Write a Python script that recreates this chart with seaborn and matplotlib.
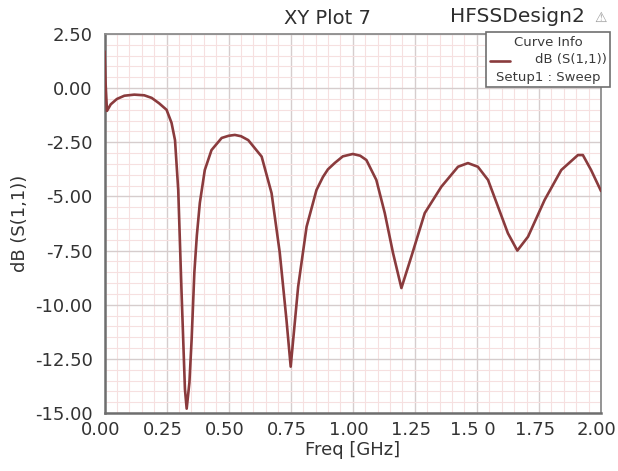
import numpy as np
import pandas as pd
import matplotlib
matplotlib.use("Agg")
import matplotlib.pyplot as plt
import matplotlib.transforms as mtransforms
from matplotlib.ticker import MultipleLocator, FixedLocator, FixedFormatter
from matplotlib.patches import Rectangle
from matplotlib.lines import Line2D
import seaborn as sns

# ---- data ----
freq_ghz = [0.000, 0.004, 0.010, 0.025, 0.05, 0.08, 0.12, 0.16, 0.19, 0.22, 0.25,
            0.27, 0.284, 0.297, 0.31, 0.324, 0.331, 0.342, 0.351, 0.362, 0.372,
            0.384, 0.404, 0.431, 0.472, 0.50, 0.525, 0.55, 0.579, 0.633, 0.673,
            0.706, 0.733, 0.75, 0.78, 0.814, 0.854, 0.88, 0.90, 0.928, 0.96, 1.00,
            1.03, 1.055, 1.095, 1.129, 1.162, 1.196, 1.236, 1.29, 1.357, 1.424,
            1.464, 1.504, 1.545, 1.585, 1.625, 1.663, 1.706, 1.773, 1.84, 1.907,
            1.927, 1.96, 2.00]
s11_db = [1.7, 0.3, -1.05, -0.75, -0.5, -0.35, -0.3, -0.33, -0.45, -0.7, -1.0,
          -1.6, -2.4, -4.7, -9.3, -13.9, -14.8, -13.6, -11.6, -8.5, -6.8,
          -5.3, -3.78, -2.86, -2.3, -2.2, -2.16, -2.22, -2.4, -3.16, -4.85,
          -7.6, -10.7, -12.86, -9.17, -6.4, -4.7, -4.1, -3.75, -3.45, -3.15, -3.04,
          -3.12, -3.32, -4.24, -5.77, -7.6, -9.23, -7.78, -5.77, -4.55, -3.63,
          -3.46, -3.63, -4.24, -5.47, -6.7, -7.5, -6.86, -5.16, -3.78, -3.09,
          -3.09, -3.78, -4.75]

x_ticks = [0.0, 0.25, 0.5, 0.75, 1.0, 1.25, 1.5, 1.75, 2.0]
x_tick_labels = ["0.00", "0.25", "0.50", "0.75", "1.00", "1.25", "1.5 0", "1.75", "2.00"]
y_ticks = [-15.0, -12.5, -10.0, -7.5, -5.0, -2.5, 0.0, 2.5]
y_tick_labels = ["-15.00", "-12.50", "-10.00", "-7.50", "-5.00", "-2.50", "0.00", "2.50"]

title = "XY Plot 7"
design = "HFSSDesign2"
x_label = "Freq [GHz]"
y_label = "dB (S(1,1))"
legend_title = "Curve Info"
legend_curve = "dB (S(1,1))"
legend_setup = "Setup1 : Sweep"

# ---- figure ----
sns.set_theme(style="white")
plt.rcParams["font.family"] = ["DejaVu Sans"]

W, H = 618, 471
fig = plt.figure(figsize=(W / 100, H / 100), dpi=100)
fig.patch.set_facecolor("white")

L, R, T, B = 104.5, 601, 34, 413
ax = fig.add_axes([L / W, 1 - B / H, (R - L) / W, (B - T) / H])

df = pd.DataFrame({"freq": freq_ghz, "db": s11_db})
sns.lineplot(data=df, x="freq", y="db", ax=ax, color="#8a3b3d", linewidth=1.9,
             zorder=5)

ax.set_xlim(0, 2.0)
ax.set_ylim(-15, 2.5)
ax.xaxis.set_major_locator(FixedLocator(x_ticks))
ax.xaxis.set_major_formatter(FixedFormatter(x_tick_labels))
ax.yaxis.set_major_locator(FixedLocator(y_ticks))
ax.yaxis.set_major_formatter(FixedFormatter(y_tick_labels))
ax.xaxis.set_minor_locator(MultipleLocator(0.05))
ax.yaxis.set_minor_locator(MultipleLocator(0.5))

ax.grid(which="minor", color="#f6e0e0", linewidth=0.8, zorder=0)
ax.grid(which="major", color="#d6cdcd", linewidth=1.0, zorder=1)
ax.set_axisbelow(True)

for side in ["left", "bottom"]:
    ax.spines[side].set_color("#6e6e6e")
    ax.spines[side].set_linewidth(1.8)
for side in ["top", "right"]:
    ax.spines[side].set_color("#8c8c8c")
    ax.spines[side].set_linewidth(1.3)

ax.tick_params(which="major", direction="inout", length=7, width=1.2,
               color="#6e6e6e", labelsize=13, labelcolor="#333333", pad=2)
ax.tick_params(which="minor", direction="inout", length=4, width=1.0,
               color="#7a7a7a")
ax.tick_params(axis="y", which="both", right=False)
ax.tick_params(axis="x", which="both", top=False)
ax.tick_params(axis="y", which="major", pad=5)

# shift x tick labels slightly left, as in the reference
offset = mtransforms.ScaledTranslation(-4 / 100, 0, fig.dpi_scale_trans)
for lab in ax.get_xticklabels():
    lab.set_transform(lab.get_transform() + offset)

ax.set_xlabel(x_label, fontsize=13, color="#333333", labelpad=2)
ax.set_ylabel(y_label, fontsize=13, color="#333333", labelpad=4)

# title and design name
fig.text(327 / W, 1 - 19 / H, title, ha="center", va="center",
         fontsize=14, color="#2e2e2e")
fig.text(585 / W, 1 - 16 / H, design, ha="right", va="center",
         fontsize=14.5, color="#2e2e2e")
fig.text(601 / W, 1 - 18 / H, "\u26a0", ha="center", va="center",
         fontsize=10, color="#9a9a9a")

# legend box (Curve Info)
lx0, ly0, lx1, ly1 = 486, 32, 610, 87
fig.patches.append(Rectangle((lx0 / W, 1 - ly1 / H), (lx1 - lx0) / W, (ly1 - ly0) / H,
                             transform=fig.transFigure, facecolor="white",
                             edgecolor="#707070", linewidth=1.2, zorder=10))
fig.text(548 / W, 1 - 43 / H, legend_title, ha="center", va="center",
         fontsize=9.5, color="#3a3a3a", zorder=11)
fig.lines.append(Line2D([490 / W, 510 / W], [1 - 61 / H, 1 - 61 / H],
                        transform=fig.transFigure, color="#8a3b3d",
                        linewidth=1.9, zorder=11))
fig.text(607 / W, 1 - 60 / H, legend_curve, ha="right", va="center",
         fontsize=9.5, color="#3a3a3a", zorder=11)
fig.text(548 / W, 1 - 77 / H, legend_setup, ha="center", va="center",
         fontsize=9.5, color="#3a3a3a", zorder=11)

fig.savefig("out.png", dpi=100, facecolor="white")
